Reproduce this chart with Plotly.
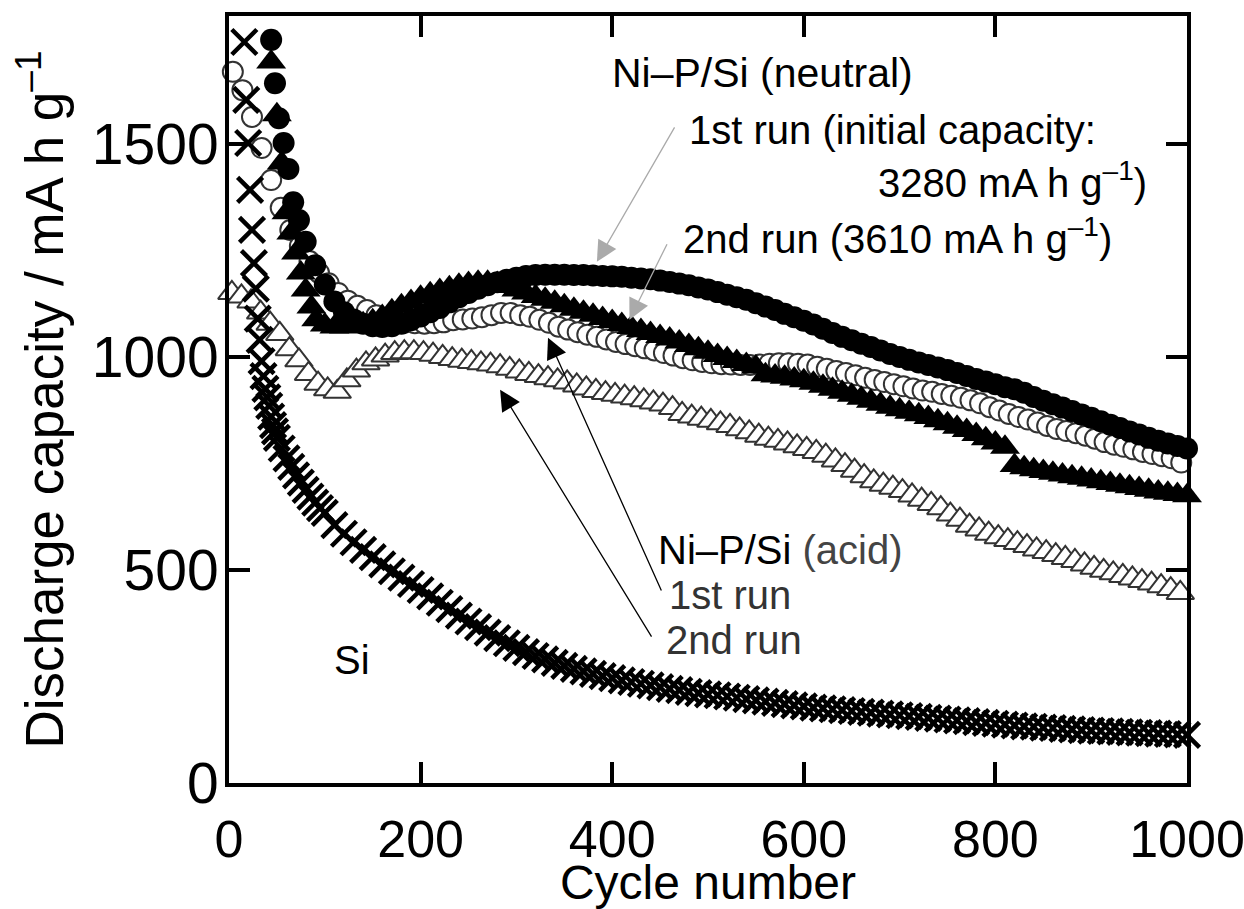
import plotly.graph_objects as go

# ---------------- data ----------------
# Si electrode (crosses)
si_cycles = [16, 18, 20, 22, 24, 26, 28, 30, 32, 34, 36, 38, 40, 42, 44, 46, 48, 50,
             55, 60, 65, 70, 75, 80, 85, 90, 95, 100] + list(range(110, 1001, 10))
si_capacity = [1739, 1603, 1502, 1392, 1298, 1220, 1160, 1090, 1040, 990, 955, 925, 905, 885, 860, 840, 825, 810,
               785, 762, 742, 722, 705, 688, 672, 658, 645, 634,
               605, 585, 565, 547, 530, 513, 497, 482, 467, 453,
               438, 423, 408, 393, 379, 366, 353, 340, 328, 317,
               307, 298, 290, 282, 275, 268, 262, 256, 251, 246,
               241, 237, 233, 229, 225, 221, 218, 214, 211, 208,
               206, 203, 200, 197, 194, 191, 188, 185, 182, 180,
               177, 175, 173, 171, 169, 167, 165, 163, 161, 159,
               157, 155, 153, 151, 149, 147, 145, 143, 141, 139,
               137, 135, 133, 132, 130, 129, 127, 126, 124, 123,
               122, 121, 120, 119, 118, 117, 116, 115, 114, 113, 112]

# Ni-P/Si (neutral) 1st run (filled circles)
n1_cycles = [44, 48, 52, 57, 62, 67, 73, 80, 90] + list(range(100, 1001, 10))
n1_capacity = [1744, 1642, 1560, 1502, 1441, 1363, 1321, 1270, 1215,
               1170, 1130, 1105, 1088, 1078, 1072, 1070, 1072, 1078, 1086,
               1095, 1105, 1115, 1128, 1140, 1150, 1160, 1168, 1175, 1181,
               1186, 1190, 1192, 1193, 1193, 1193, 1192, 1192, 1191, 1190,
               1189, 1188, 1186, 1184, 1182, 1179, 1176, 1172, 1168, 1163,
               1158, 1152, 1146, 1140, 1134, 1126, 1118, 1110, 1101, 1093,
               1085, 1076, 1066, 1056, 1047, 1039, 1031, 1023, 1015, 1007,
               1000, 993, 987, 981, 975, 969, 962, 955, 948, 942,
               936, 929, 924, 916, 906, 897, 889, 881, 873, 865,
               857, 849, 841, 833, 825, 818, 810, 803, 797, 791, 785]

# Ni-P/Si (neutral) 2nd run (filled triangles)
n2_cycles = [44, 50, 55, 60, 65, 70, 75, 80, 86, 91] + list(range(100, 1001, 10))
n2_capacity = [1692, 1568, 1455, 1338, 1291, 1244, 1197, 1157, 1117, 1087,
               1075, 1070, 1070, 1072, 1078, 1085, 1095, 1108, 1120, 1130,
               1140, 1148, 1156, 1162, 1168, 1172, 1175, 1175, 1172, 1165,
               1157, 1150, 1142, 1135, 1128, 1120, 1112, 1105, 1098, 1090,
               1083, 1076, 1069, 1062, 1055, 1048, 1042, 1035, 1027, 1019,
               1011, 1003, 996, 989, 982, 976, 958, 955, 952, 948,
               944, 938, 931, 924, 917, 910, 903, 896, 889, 882,
               876, 870, 864, 858, 850, 843, 835, 827, 818, 808,
               798, 788, 745, 740, 735, 731, 727, 723, 719, 715,
               711, 707, 703, 699, 695, 691, 687, 683, 680, 677, 674]

# Ni-P/Si (acid) 1st run (open circles)
a1_cycles = list(range(4, 1000, 10))
a1_capacity = [1669, 1626, 1563, 1490, 1415, 1350, 1298, 1260, 1225, 1197,
               1173, 1150, 1132, 1120, 1110, 1098, 1090, 1085, 1081, 1079,
               1078, 1079, 1081, 1086, 1088, 1090, 1093, 1098, 1103, 1103,
               1098, 1094, 1087, 1080, 1071, 1064, 1058, 1052, 1047, 1041,
               1035, 1030, 1025, 1020, 1015, 1009, 1003, 997, 992, 988,
               985, 983, 982, 981, 981, 982, 984, 985, 985, 984,
               982, 977, 972, 967, 962, 957, 951, 946, 941, 936,
               931, 926, 921, 918, 913, 909, 904, 898, 891, 882,
               874, 866, 859, 853, 846, 838, 831, 826, 821, 815,
               808, 800, 794, 789, 783, 777, 772, 767, 762, 752]

# Ni-P/Si (acid) 2nd run (open triangles)
a2_cycles = list(range(3, 1000, 10))
a2_capacity = [1150, 1142, 1130, 1104, 1078, 1054, 1018, 992, 960, 937,
               924, 918, 945, 968, 985, 994, 1003, 1009, 1011, 1011,
               1009, 1005, 1000, 995, 991, 988, 985, 982, 978, 972,
               966, 960, 955, 950, 945, 940, 933, 926, 920, 915,
               911, 907, 903, 898, 893, 888, 880, 866, 860, 855,
               850, 844, 838, 830, 823, 815, 808, 803, 797, 790,
               784, 777, 768, 757, 746, 733, 720, 708, 700, 693,
               685, 675, 665, 655, 645, 630, 618, 604, 595, 585,
               577, 570, 563, 556, 548, 542, 535, 528, 521, 513,
               505, 498, 492, 486, 480, 474, 468, 462, 455, 446]

x_ticks = [0, 200, 400, 600, 800, 1000]
y_ticks = [0, 500, 1000, 1500]

FONT = "Liberation Sans, Arial, Helvetica, sans-serif"
DARK = "#333333"

fig = go.Figure()

fig.add_trace(go.Scatter(x=a2_cycles, y=a2_capacity, mode="markers", cliponaxis=False,
                         marker=dict(symbol="triangle-up", size=24, color="white",
                                     line=dict(color=DARK, width=2)), name="acid 2nd"))
fig.add_trace(go.Scatter(x=a1_cycles, y=a1_capacity, mode="markers", cliponaxis=False,
                         marker=dict(symbol="circle", size=20, color="white",
                                     line=dict(color=DARK, width=2)), name="acid 1st"))
fig.add_trace(go.Scatter(x=n2_cycles, y=n2_capacity, mode="markers", cliponaxis=False,
                         marker=dict(symbol="triangle-up", size=26, color="black",
                                     line=dict(color="black", width=0)), name="neutral 2nd"))
fig.add_trace(go.Scatter(x=n1_cycles, y=n1_capacity, mode="markers", cliponaxis=False,
                         marker=dict(symbol="circle", size=22, color="black",
                                     line=dict(color="black", width=0)), name="neutral 1st"))
fig.add_trace(go.Scatter(x=si_cycles, y=si_capacity, mode="markers", cliponaxis=False,
                         marker=dict(symbol="x-thin", size=25, color="black",
                                     line=dict(color="black", width=4.5)), name="Si"))

annotations = []
# arrows (tip at x,y ; tail at ax,ay) in data coordinates
arrows = [
    (384, 1223, 466, 1542, "#aaaaaa"),
    (418, 1087, 458, 1268, "#aaaaaa"),
    (333, 1045, 452, 448, "black"),
    (283, 923, 442, 340, "black"),
]
for x, y, ax, ay, col in arrows:
    annotations.append(dict(x=x, y=y, ax=ax, ay=ay, xref="x", yref="y", axref="x", ayref="y",
                            text="", showarrow=True, arrowhead=2, arrowsize=3.2, arrowwidth=1.3,
                            arrowcolor=col, standoff=0, startstandoff=0))

texts = [
    (398, 1666, "Ni–P/Si (neutral)", "left", "black", 41),
    (478, 1533, "1st run (initial capacity:", "left", "black", 40),
    (960, 1415, "3280 mA h g<sup>–1</sup>)", "right", "black", 40),
    (472, 1284, "2nd run (3610 mA h g<sup>–1</sup>)", "left", "black", 40),
    (446, 547, "Ni–P/Si <span style='color:#444444'>(acid)</span>", "left", "black", 40),
    (457, 441, "1st run", "left", DARK, 40),
    (454, 336, "2nd run", "left", DARK, 40),
    (107, 289, "Si", "left", "black", 40),
]
for x, y, t, anc, col, fs in texts:
    annotations.append(dict(x=x, y=y, xref="x", yref="y", text=t, showarrow=False,
                            xanchor=anc, yanchor="middle",
                            font=dict(family=FONT, size=fs, color=col)))

axis_common = dict(showline=True, linewidth=4, linecolor="black", mirror="ticks",
                   ticks="inside", ticklen=21, tickwidth=4, tickcolor="black",
                   showgrid=False, zeroline=False, automargin=False,
                   ticklabeloverflow="allow")

fig.update_layout(
    width=1244, height=909, autosize=False,
    margin=dict(l=229, r=57, t=16, b=126),
    paper_bgcolor="white", plot_bgcolor="white",
    showlegend=False,
    font=dict(family=FONT, color="black"),
    annotations=annotations,
    xaxis=dict(range=[0, 1000], tickvals=x_ticks, ticklabelstandoff=8,
               tickfont=dict(family=FONT, size=52, color="black"),
               title=dict(text="Cycle number", font=dict(family=FONT, size=48, color="black"),
                          standoff=0),
               **axis_common),
    yaxis=dict(range=[0, 1800], tickvals=y_ticks, ticklabelstandoff=-5,
               tickfont=dict(family=FONT, size=57, color="black"),
               title=dict(text="Discharge capacity / mA h g<sup>–1</sup>",
                          font=dict(family=FONT, size=53, color="black"), standoff=12),
               **axis_common),
)

fig.write_html("out.html")
